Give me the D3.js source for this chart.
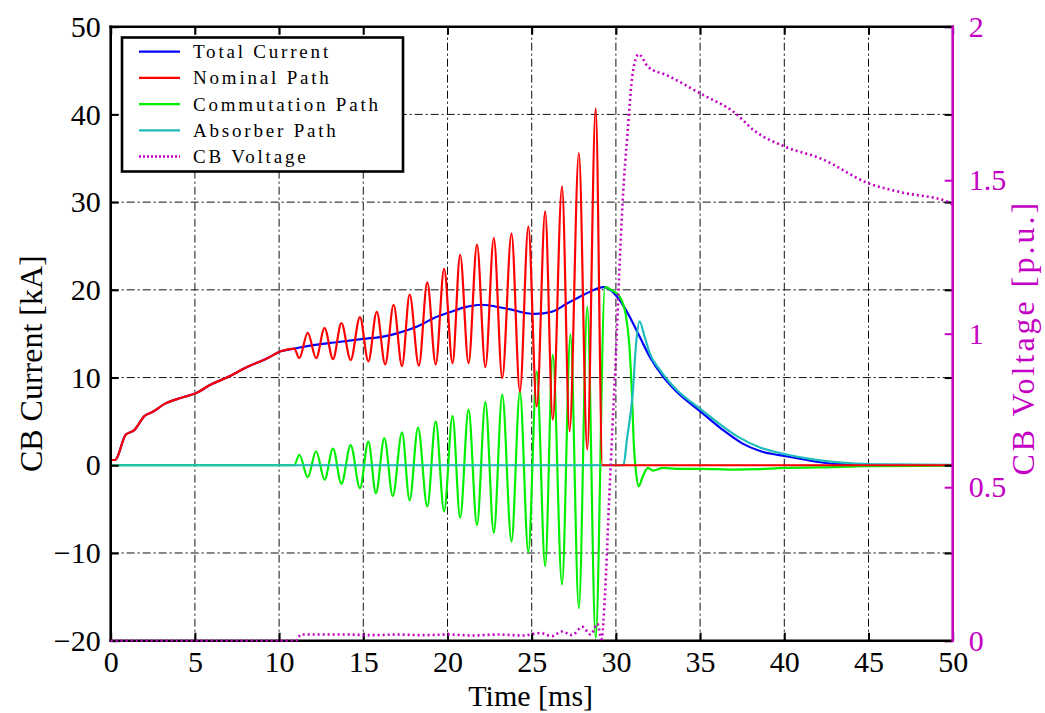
<!DOCTYPE html>
<html>
<head>
<meta charset="utf-8">
<script src="https://cdn.jsdelivr.net/npm/d3@7"></script>
<style>
  body { margin: 0; background: #fff; }
  text { font-family: "Liberation Serif", "Times New Roman", serif; }
</style>
</head>
<body>
<svg id="chart"></svg>
<script>
const width = 1045;
const height = 713;

// axes
const xTicks = [0, 5, 10, 15, 20, 25, 30, 35, 40, 45, 50];
const yTicks = [-20, -10, 0, 10, 20, 30, 40, 50];
const vTicks = [0, 0.5, 1, 1.5, 2];
const vTickLabels = ["0", "0.5", "1", "1.5", "2"];

// series (time in ms, current in kA, voltage in p.u.)
const totalTime = [0, 0.25, 0.9, 1.4, 2.0, 2.5, 3.2, 4.2, 5.05, 5.95, 6.9, 8.1, 9.3, 10.1, 10.9, 12.0, 13.3, 15.0, 16.25, 17.1, 18.3, 19.2, 20.2, 21.0, 22.0, 23.4, 25.2, 26.2, 27.15, 28.1, 29.3, 30.2, 30.8, 31.4, 32.0, 32.8, 33.6, 35.1, 36.3, 37.5, 38.6, 40.2, 41.8, 43.0, 45.0, 50];
const totalCurrent = [0.6, 0.6, 3.5, 4.0, 5.6, 6.1, 7.0, 7.7, 8.2, 9.2, 10.0, 11.2, 12.2, 13.0, 13.3, 13.7, 14.0, 14.4, 14.7, 15.1, 15.9, 16.8, 17.5, 18.0, 18.3, 17.9, 17.25, 17.5, 18.5, 19.45, 20.3, 18.9, 17.0, 14.7, 12.4, 10.1, 8.4, 6.0, 4.1, 2.5, 1.6, 1.0, 0.45, 0.15, 0.05, 0.0];

const nominalTime = [0, 0.25, 0.9, 1.4, 2.0, 2.5, 3.2, 4.2, 5.05, 5.95, 6.9, 8.1, 9.3, 10.1, 10.9, 11.2, 11.7, 12.2, 12.7, 13.2, 13.7, 14.25, 14.8, 15.3, 15.8, 16.3, 16.8, 17.3, 17.75, 18.3, 18.8, 19.3, 19.8, 20.3, 20.75, 21.25, 21.75, 22.25, 22.75, 23.25, 23.8, 24.3, 24.8, 25.3, 25.8, 26.25, 26.8, 27.25, 27.8, 28.3, 28.8, 29.2, 29.6, 50];
const nominalCurrent = [0.6, 0.6, 3.5, 4.0, 5.6, 6.1, 7.0, 7.7, 8.2, 9.2, 10.0, 11.2, 12.2, 13.0, 13.3, 12.2, 15.1, 12.2, 15.65, 12.1, 16.2, 12.0, 16.9, 11.85, 17.5, 11.5, 18.3, 11.3, 19.45, 11.35, 20.85, 11.5, 22.4, 11.65, 24.0, 11.65, 25.15, 11.2, 25.9, 9.95, 26.4, 8.4, 27.2, 6.7, 28.95, 5.2, 31.8, 3.9, 35.6, 1.8, 40.7, 0, 0, 0];

const commTime = [0, 10.9, 11.2, 11.7, 12.2, 12.7, 13.2, 13.7, 14.25, 14.8, 15.3, 15.75, 16.25, 16.75, 17.3, 17.75, 18.25, 18.8, 19.3, 19.8, 20.3, 20.75, 21.25, 21.75, 22.25, 22.75, 23.25, 23.8, 24.3, 24.8, 25.3, 25.8, 26.25, 26.8, 27.3, 27.8, 28.3, 28.8, 29.35, 29.8, 30.2, 30.6, 30.8, 30.95, 31.07, 31.2, 31.35, 31.6, 31.9, 32.2, 32.8, 33.6, 35.0, 37.0, 38.5, 40.0, 42.0, 45.0, 50];
const commCurrent = [0, 0, 1.2, -1.35, 1.6, -1.65, 1.9, -2.1, 2.3, -2.6, 2.7, -3.2, 3.1, -3.5, 3.75, -4.0, 4.3, -4.7, 5.0, -5.25, 5.6, -6.0, 6.35, -6.8, 7.2, -7.7, 8.05, -8.7, 8.4, -9.9, 10.7, -11.5, 12.6, -13.6, 14.9, -16.3, 18.1, -19.7, 20.3, 19.9, 19.3, 17.0, 13.6, 8.2, 2.15, -0.9, -2.4, -1.25, -0.3, -0.6, -0.3, -0.4, -0.4, -0.5, -0.45, -0.3, -0.25, -0.1, -0.05];

const absTime = [0, 30.45, 30.65, 31.0, 31.2, 31.4, 31.7, 32.0, 32.6, 33.5, 35.1, 37.2, 38.6, 40.2, 41.8, 43.8, 45.8, 50];
const absCurrent = [0, 0, 2.9, 8.2, 13.9, 16.4, 14.7, 12.8, 10.9, 8.8, 6.3, 3.3, 2.0, 1.2, 0.65, 0.25, 0.1, 0.05];

const voltTime = [0, 11.0, 11.3, 12.5, 14, 15.5, 17, 18.5, 20, 21.5, 23, 24.5, 25.5, 26.2, 26.8, 27.4, 28.0, 28.5, 28.9, 29.15, 29.35, 29.6, 29.8, 30.0, 30.2, 30.4, 30.7, 31.0, 31.35, 31.9, 33.1, 35.1, 37.05, 38.25, 40.0, 42.2, 45.0, 47.0, 49.7, 50];
const voltage = [0, 0, 0.02, 0.02, 0.02, 0.018, 0.02, 0.018, 0.02, 0.017, 0.02, 0.017, 0.025, 0.015, 0.03, 0.018, 0.045, 0.02, 0.055, 0.005, 0.15, 0.46, 0.7, 0.93, 1.2, 1.43, 1.66, 1.85, 1.91, 1.87, 1.84, 1.78, 1.72, 1.66, 1.61, 1.57, 1.49, 1.46, 1.43, 1.42];

const legendNames = ["Total Current", "Nominal Path", "Commutation Path", "Absorber Path", "CB Voltage"];

const magenta = "#c400c4";
const currentSeries = [
  { t: totalTime, v: totalCurrent, color: "#0000ff" },
  { t: commTime, v: commCurrent, color: "#00f000" },
  { t: absTime, v: absCurrent, color: "#1fbcbc" },
  { t: nominalTime, v: nominalCurrent, color: "#ff0000" }
];

const plotLeft = 110.7, plotRight = 952.7, plotTop = 26.7, plotBottom = 640.7;

const svg = d3.select("#chart").attr("width", width).attr("height", height);

const x = d3.scaleLinear().domain([0, 50]).range([plotLeft, plotRight]);
const y = d3.scaleLinear().domain([-20, 50]).range([plotBottom, plotTop]);
const yV = d3.scaleLinear().domain([0, 2]).range([plotBottom, plotTop]);

// grid
const grid = svg.append("g").attr("stroke", "#111").attr("stroke-width", 1).attr("stroke-dasharray", "8,3,2,3");
grid.selectAll(".gx").data(xTicks.slice(1, -1)).enter().append("line")
  .attr("x1", d => x(d)).attr("x2", d => x(d)).attr("y1", plotTop).attr("y2", plotBottom);
grid.selectAll(".gy").data(yTicks.slice(1, -1)).enter().append("line")
  .attr("x1", plotLeft).attr("x2", plotRight).attr("y1", d => y(d)).attr("y2", d => y(d));

// current curves
currentSeries.forEach(s => {
  const line = d3.line()
    .x((d, i) => x(s.t[i]))
    .y(d => y(d))
    .curve(d3.curveMonotoneX);
  svg.append("path")
    .datum(s.v)
    .attr("fill", "none")
    .attr("stroke", s.color)
    .attr("stroke-width", 2.2)
    .attr("d", line);
});

// axes
function styleAxis(g, color) {
  g.select(".domain").remove();
  g.selectAll(".tick line").attr("stroke", color).attr("stroke-width", 2);
  g.selectAll(".tick text").attr("fill", color).style("font-size", "30px");
}

svg.append("g").attr("transform", `translate(0,${plotBottom})`)
  .call(d3.axisBottom(x).tickValues(xTicks).tickSize(-8).tickPadding(10).tickSizeOuter(0))
  .call(g => styleAxis(g, "#000"));
svg.append("g").attr("transform", `translate(0,${plotTop})`)
  .call(d3.axisTop(x).tickValues(xTicks).tickSize(-8).tickFormat("").tickSizeOuter(0))
  .call(g => styleAxis(g, "#000"));
svg.append("g").attr("transform", `translate(${plotLeft},0)`)
  .call(d3.axisLeft(y).tickValues(yTicks).tickSize(-8).tickPadding(10).tickSizeOuter(0))
  .call(g => styleAxis(g, "#000"));
svg.append("g").attr("transform", `translate(${plotRight},0)`)
  .call(d3.axisRight(y).tickValues(yTicks).tickSize(-8).tickFormat("").tickSizeOuter(0))
  .call(g => styleAxis(g, "#000"));
svg.append("g").attr("transform", `translate(${plotRight},0)`)
  .call(d3.axisRight(yV).tickValues(vTicks).tickSize(-8).tickPadding(16).tickSizeOuter(0)
    .tickFormat((d, i) => vTickLabels[i]))
  .call(g => styleAxis(g, magenta));

// frame
const frame = svg.append("g").attr("stroke-width", 2.6).attr("stroke-linecap", "square");
frame.append("line").attr("x1", plotLeft).attr("x2", plotRight).attr("y1", plotTop).attr("y2", plotTop).attr("stroke", "#000");
frame.append("line").attr("x1", plotLeft).attr("x2", plotRight).attr("y1", plotBottom).attr("y2", plotBottom).attr("stroke", "#000");
frame.append("line").attr("x1", plotLeft).attr("x2", plotLeft).attr("y1", plotTop).attr("y2", plotBottom).attr("stroke", "#000");
frame.append("line").attr("x1", plotRight).attr("x2", plotRight).attr("y1", plotTop).attr("y2", plotBottom).attr("stroke", magenta);

// voltage curve (dotted, drawn over the frame)
svg.append("path")
  .datum(voltage)
  .attr("fill", "none")
  .attr("stroke", magenta)
  .attr("stroke-width", 2.6)
  .attr("stroke-dasharray", "2,3")
  .attr("d", d3.line().x((d, i) => x(voltTime[i])).y(d => yV(d)).curve(d3.curveMonotoneX));

// axis titles
svg.append("text").attr("x", (plotLeft + plotRight) / 2 - 1).attr("y", 706)
  .attr("text-anchor", "middle").style("font-size", "30px").text("Time [ms]");
svg.append("text").attr("transform", `translate(42,${(plotTop + plotBottom) / 2 + 30}) rotate(-90)`)
  .attr("text-anchor", "middle").style("font-size", "32px").text("CB Current [kA]");
svg.append("text").attr("transform", `translate(1034,${(plotTop + plotBottom) / 2 + 4}) rotate(-90)`)
  .attr("text-anchor", "middle").attr("fill", magenta).style("font-size", "32px")
  .style("letter-spacing", "3px").text("CB Voltage [p.u.]");

// legend
const legendColors = ["#0000ff", "#ff0000", "#00f000", "#1fbcbc", magenta];
const legend = svg.append("g");
legend.append("rect").attr("x", 122).attr("y", 37.5).attr("width", 281).attr("height", 134)
  .attr("fill", "#fff").attr("stroke", "#000").attr("stroke-width", 2.6);
legendNames.forEach((name, i) => {
  const ly = 51.7 + i * 26.2;
  legend.append("line").attr("x1", 139).attr("x2", 180).attr("y1", ly).attr("y2", ly)
    .attr("stroke", legendColors[i]).attr("stroke-width", i === 4 ? 2.6 : 2.2)
    .attr("stroke-dasharray", i === 4 ? "2,2" : null);
  legend.append("text").attr("x", 193).attr("y", ly + 6.5)
    .style("font-size", "19px").style("letter-spacing", "2.8px").text(name);
});
</script>
</body>
</html>
